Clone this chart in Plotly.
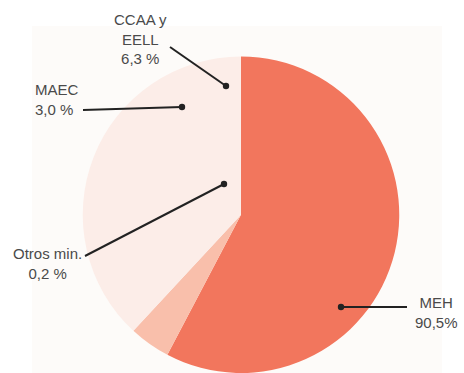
import plotly.graph_objects as go

# Slice sizes as drawn in the picture (share of the full circle, %)
slice_names = ["MEH", "Otros", "Resto"]
slice_shares = [57.7, 4.2, 38.1]
slice_colors = ["#f2765d", "#f9bfab", "#fcede8"]

# Callout labels
label_names = ["CCAA y<br>EELL", "MAEC", "Otros min.", "MEH"]
label_values = ["6,3 %", "3,0 %", "0,2 %", "90,5%"]

W, H = 464, 373

# layout positions (pixels) for callouts: text anchor and leader line ends (dot end second)
text_pos = [(140, 9, "center"), (33, 79, "left"), (47, 243, "center"), (436, 292, "center")]
lines = [((170, 47), (226, 86)), ((83, 110), (182, 107)), ((85, 256), (224, 184)), ((407, 307), (341, 307))]

fig = go.Figure()

# pie geometry: center (241, 215), radius ~158
cx, cy, r = 241, 214.75, 158.25
fig.add_trace(go.Pie(
    labels=slice_names, values=slice_shares, sort=False, direction="clockwise", rotation=0,
    marker=dict(colors=slice_colors, line=dict(width=0)),
    textinfo="none", hoverinfo="skip", showlegend=False,
    domain=dict(x=[(cx - r) / W, (cx + r) / W], y=[max(0, 1 - (cy + r) / H), 1 - (cy - r) / H]),
))

# invisible trace to hold cartesian axes
fig.add_trace(go.Scatter(x=[0, W], y=[0, H], mode="markers", marker=dict(opacity=0),
                         hoverinfo="skip", showlegend=False))

fig.add_shape(type="rect", xref="x", yref="y", x0=32, x1=442, y0=26, y1=373,
              fillcolor="#fdfbf9", line=dict(width=0), layer="below")

dot_r = 3.2
for (p0, p1) in lines:
    fig.add_shape(type="line", xref="x", yref="y", x0=p0[0], y0=p0[1], x1=p1[0], y1=p1[1],
                  line=dict(color="#222222", width=2), layer="above")
    fig.add_shape(type="circle", xref="x", yref="y",
                  x0=p1[0] - dot_r, x1=p1[0] + dot_r, y0=p1[1] - dot_r, y1=p1[1] + dot_r,
                  fillcolor="#222222", line=dict(width=0), layer="above")

for name, val, (tx, ty, anchor) in zip(label_names, label_values, text_pos):
    fig.add_annotation(
        x=tx, y=ty, xref="x", yref="y", text=f"{name}<br>{val}", showarrow=False,
        xanchor=anchor, yanchor="top", align=anchor,
        font=dict(family="Liberation Sans, Arial, sans-serif", size=15, color="#4a4a4a"),
    )

fig.update_layout(
    width=W, height=H, autosize=False,
    margin=dict(l=0, r=0, t=0, b=0),
    paper_bgcolor="white", plot_bgcolor="rgba(0,0,0,0)",
    xaxis=dict(range=[0, W], visible=False, fixedrange=True),
    yaxis=dict(range=[H, 0], visible=False, fixedrange=True),
)

fig.write_html("out.html", config={"displayModeBar": False, "staticPlot": True},
               post_script="document.body.style.margin='0px';")
